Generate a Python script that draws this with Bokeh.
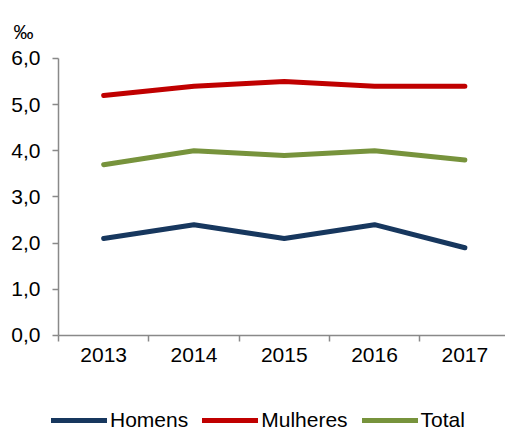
from bokeh.plotting import figure
from bokeh.models import (Range1d, FixedTicker, Legend, LegendItem, Label,
                          LinearAxis)
from bokeh.embed import file_html
from bokeh.resources import INLINE

# Taxa por ano (‰)
years = ["2013", "2014", "2015", "2016", "2017"]
homens = [2.1, 2.4, 2.1, 2.4, 1.9]
mulheres = [5.2, 5.4, 5.5, 5.4, 5.4]
total = [3.7, 4.0, 3.9, 4.0, 3.8]
y_ticks = [0, 1, 2, 3, 4, 5, 6]
y_tick_labels = ["0,0", "1,0", "2,0", "3,0", "4,0", "5,0", "6,0"]

FONT = "Liberation Sans"
AXIS_COLOR = "#898989"

xs = list(range(1, len(years) + 1))

# The frame fills the whole canvas; both axes sit at fixed data positions
# so the legend and the unit marker can live inside the frame.
p = figure(width=505, height=432, output_backend="svg", toolbar_location=None,
           x_range=Range1d(-0.1423, 5.45), y_range=Range1d(-2.101, 7.256),
           x_axis_location=None, y_axis_location=None,
           min_border_left=0, min_border_right=0, min_border_top=0,
           min_border_bottom=0)
p.outline_line_color = None
p.grid.visible = False
p.background_fill_color = "white"
p.border_fill_color = "white"

series = [("Homens", homens, "#17375E"),
          ("Mulheres", mulheres, "#C00000"),
          ("Total", total, "#77933C")]

items = []
for name, vals, color in series:
    r = p.line(xs, vals, line_color=color, line_width=5, line_cap="round",
               line_join="round")
    items.append(LegendItem(label=name, renderers=[r]))

# X axis: labels at category centres, ticks on the boundaries
xa = LinearAxis(fixed_location=0, bounds=(0.5, 5.5))
xa.ticker = FixedTicker(ticks=xs, minor_ticks=[x + 0.5 for x in range(0, 6)])
xa.major_label_overrides = {x: y for x, y in zip(xs, years)}
xa.major_tick_line_color = None
xa.minor_tick_in = 0
xa.minor_tick_out = 6
xa.minor_tick_line_color = AXIS_COLOR
xa.minor_tick_line_width = 1.5
xa.axis_line_color = AXIS_COLOR
xa.axis_line_width = 1.5
xa.major_label_text_font = FONT
xa.major_label_text_font_size = "21px"
xa.major_label_text_color = "#000000"
xa.major_label_standoff = 7
p.add_layout(xa, "below")

ya = LinearAxis(fixed_location=0.5, bounds=(0, 6))
ya.ticker = FixedTicker(ticks=y_ticks)
ya.major_label_overrides = {t: s for t, s in zip(y_ticks, y_tick_labels)}
ya.minor_tick_line_color = None
ya.major_tick_in = 0
ya.major_tick_out = 6
ya.major_tick_line_color = AXIS_COLOR
ya.major_tick_line_width = 1.5
ya.axis_line_color = AXIS_COLOR
ya.axis_line_width = 1.5
ya.major_label_text_font = FONT
ya.major_label_text_font_size = "21px"
ya.major_label_text_color = "#000000"
ya.major_label_standoff = 12
p.add_layout(ya, "left")

# Unit marker above the y axis
p.add_layout(Label(x=13, y=401, x_units="screen", y_units="screen",
                   text="‰", text_font=FONT, text_font_size="20px",
                   text_color="#000000", text_baseline="alphabetic"))

legend = Legend(items=items, orientation="horizontal", location=(51, 0),
                glyph_width=56, glyph_height=20, label_standoff=3, spacing=14,
                padding=0, margin=0, border_line_color=None,
                background_fill_alpha=0,
                label_text_font=FONT, label_text_font_size="21px",
                label_text_color="#000000", label_height=20)
p.add_layout(legend, "center")

open("out.html", "w").write(file_html(p, INLINE))
